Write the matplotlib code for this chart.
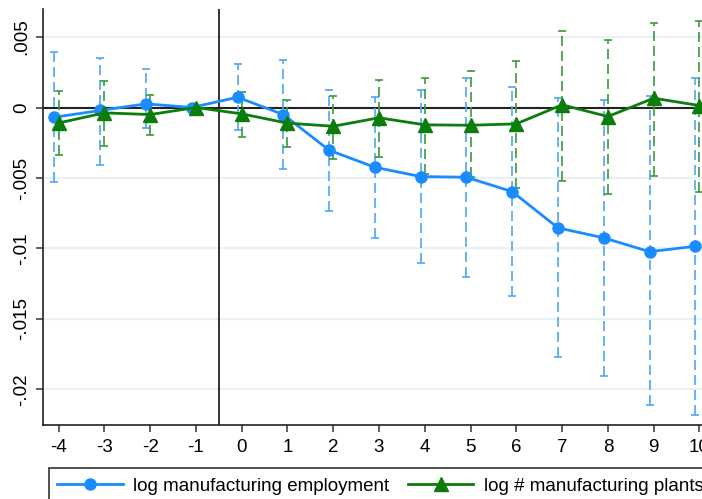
import matplotlib
matplotlib.use("Agg")
import matplotlib.pyplot as plt
from matplotlib.patches import Rectangle
from matplotlib.lines import Line2D

plt.rcParams['font.family'] = ['Liberation Sans', 'DejaVu Sans']

# event time
periods = [-4, -3, -2, -1, 0, 1, 2, 3, 4, 5, 6, 7, 8, 9, 10]

# log manufacturing employment: estimate, upper CI, lower CI
emp = [-0.00069, -0.00021, 0.00026, 0.0, 0.00073, -0.0005, -0.00303, -0.00424,
       -0.0049, -0.00495, -0.00597, -0.00854, -0.00925, -0.01023, -0.00985]
emp_hi = [0.00393, 0.00353, 0.0027, 0.0, 0.00308, 0.00339, 0.00126, 0.00073,
          0.00123, 0.00211, 0.00147, 0.00066, 0.00055, 0.00083, 0.00208]
emp_lo = [-0.00528, -0.00407, -0.00147, 0.0, -0.00163, -0.00438, -0.00732, -0.00923,
          -0.01103, -0.0120, -0.0134, -0.0177, -0.01908, -0.02112, -0.0218]

# log # manufacturing plants: estimate, upper CI, lower CI
plants = [-0.0011, -0.00038, -0.0005, 0.0, -0.00045, -0.00111, -0.00133, -0.00073,
          -0.00123, -0.00126, -0.00116, 0.00019, -0.00064, 0.00066, 0.00014]
plants_hi = [0.0012, 0.00185, 0.00092, 0.0, 0.00111, 0.0005, 0.00083, 0.00197,
             0.00211, 0.00261, 0.00329, 0.00542, 0.00476, 0.00602, 0.00616]
plants_lo = [-0.0034, -0.0027, -0.00197, 0.0, -0.00211, -0.00282, -0.00362, -0.00353,
             -0.00471, -0.00495, -0.0057, -0.00518, -0.00613, -0.00483, -0.00599]

yticks = [0.005, 0, -0.005, -0.01, -0.015, -0.02]
ytick_labels = ['.005', '0', '-.005', '-.01', '-.015', '-.02']

BLUE = '#1a8cff'
BLUE_CI = '#4fa5f7'
GREEN = '#0a7d0a'
GREEN_CI = '#3a9a3a'


def draw_ci(ax, x, est, hi, lo, color):
    x = [v for v, h, l in zip(x, hi, lo) if h != l]
    e = [v for v, h, l in zip(est, hi, lo) if h != l]
    h = [v for v, hh, l in zip(hi, hi, lo) if hh != l]
    l = [v for v, hh, ll in zip(lo, hi, lo) if hh != ll]
    err = [[ei - li for ei, li in zip(e, l)], [hi_ - ei for ei, hi_ in zip(e, h)]]
    cont = ax.errorbar(x, e, yerr=err, fmt='none', ecolor=color, elinewidth=1.2,
                       capsize=3, capthick=1.2, zorder=2)
    for col in cont[2]:
        col.set_linestyle((0, (6, 3)))


def main():
    fig = plt.figure(figsize=(7.02, 4.99), dpi=100)
    ax = fig.add_axes([43 / 702, 74 / 499, 672 / 702, 416 / 499])

    x_emp = [p - 0.09 for p in periods]

    for y in yticks:
        if y != 0:
            ax.axhline(y, color='#eaf1f2', lw=1.5, zorder=0)
    ax.axhline(0, color='#222222', lw=1.5, zorder=1)
    ax.axvline(-0.5, color='#222222', lw=1.3, zorder=1)

    draw_ci(ax, x_emp, emp, emp_hi, emp_lo, BLUE_CI)
    draw_ci(ax, periods, plants, plants_hi, plants_lo, GREEN_CI)

    ax.plot(x_emp, emp, color=BLUE, lw=2, marker='o', ms=8, zorder=3)
    ax.plot(periods, plants, color=GREEN, lw=2, marker='^', ms=10, zorder=4)

    ax.set_xlim(-4.34, 10.34)
    ax.set_ylim(-0.02253, 0.00699)
    ax.set_xticks(periods)
    ax.set_xticklabels([str(p) for p in periods])
    ax.set_yticks(yticks)
    ax.set_yticklabels(ytick_labels, rotation=90, va='center')
    ax.tick_params(axis='both', labelsize=13.5, length=5, width=1.1, color='#333333',
                   direction='out')
    ax.tick_params(axis='y', pad=4)
    ax.tick_params(axis='x', pad=5)

    for side in ('top', 'right'):
        ax.spines[side].set_visible(False)
    for side in ('left', 'bottom'):
        ax.spines[side].set_linewidth(1.2)
        ax.spines[side].set_color('#222222')

    # legend frame, cropped by the figure edge
    fig.patches.append(Rectangle((49 / 702, -0.2), 1.0, 0.2 + 31 / 499,
                                 transform=fig.transFigure, fill=False,
                                 edgecolor='#333333', lw=1.2, clip_on=False))
    handles = [Line2D([], [], color=BLUE, lw=2, marker='o', ms=8),
               Line2D([], [], color=GREEN, lw=2, marker='^', ms=10)]
    fig.legend(handles, ['log manufacturing employment', 'log # manufacturing plants'],
               loc='center left', bbox_to_anchor=(57 / 702, 1 - 486 / 499), ncol=2,
               frameon=False, fontsize=13.5, handlelength=3.5, handletextpad=0.55,
               columnspacing=1.0, borderaxespad=0, borderpad=0)

    fig.savefig('out.png', dpi=100)


if __name__ == "__main__":
    main()
